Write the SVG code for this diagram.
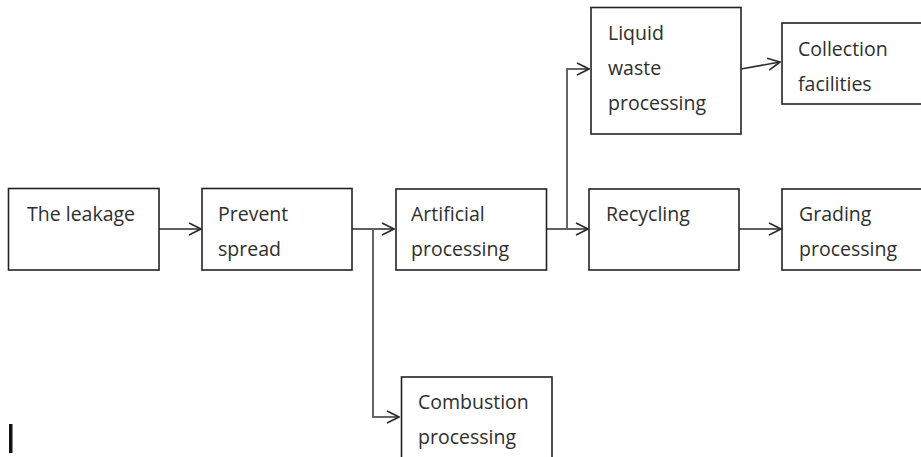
<svg xmlns="http://www.w3.org/2000/svg" width="921" height="457" viewBox="0 0 921 457">
<style>
.box{fill:#fff;stroke:#222;stroke-width:1.6}
.t{font-family:"Open Sans","Liberation Sans",sans-serif;font-size:19.5px;fill:#2e2e2e}
.c{fill:none;stroke:#2a2a2a;stroke-width:1.6}
.g{fill:none;stroke:#666;stroke-width:2}
</style>
<defs>
<marker id="ah" viewBox="0 0 14 14" refX="13" refY="7" markerWidth="14" markerHeight="14" markerUnits="userSpaceOnUse" orient="auto">
<path d="M1,1 L13,7 L1,13" fill="none" stroke="#2a2a2a" stroke-width="1.6"/>
</marker>
</defs>
<rect width="921" height="457" fill="#fff"/>
<g id="connectors">
<line class="c" x1="159" y1="229" x2="201" y2="229" marker-end="url(#ah)"/>
<line class="c" x1="352" y1="229" x2="394" y2="229" marker-end="url(#ah)"/>
<polyline class="g" points="373,229 373,417 399,417" marker-end="url(#ah)"/>
<line class="c" x1="546" y1="229" x2="588" y2="229" marker-end="url(#ah)"/>
<polyline class="g" points="567,229 567,69 589,69" marker-end="url(#ah)"/>
<line class="c" x1="741" y1="69" x2="780" y2="62" marker-end="url(#ah)"/>
<line class="c" x1="739" y1="229" x2="781" y2="229" marker-end="url(#ah)"/>
</g>
<g id="leakage">
<rect class="box" x="8.5" y="188.5" width="150.5" height="81.5"/>
<text class="t" x="27" y="221">The leakage</text>
</g>
<g id="prevent">
<rect class="box" x="202" y="188.5" width="150" height="81.5"/>
<text class="t" x="218" y="221">Prevent</text>
<text class="t" x="218" y="256">spread</text>
</g>
<g id="artificial">
<rect class="box" x="396" y="189" width="150.5" height="81"/>
<text class="t" x="411" y="221">Artificial</text>
<text class="t" x="411" y="256">processing</text>
</g>
<g id="recycling">
<rect class="box" x="589" y="189" width="150" height="81"/>
<text class="t" x="606" y="221">Recycling</text>
</g>
<g id="grading">
<rect class="box" x="782" y="189" width="150" height="81"/>
<text class="t" x="799" y="221">Grading</text>
<text class="t" x="799" y="256">processing</text>
</g>
<g id="liquid">
<rect class="box" x="591" y="7.5" width="150" height="126.5"/>
<text class="t" x="608" y="40">Liquid</text>
<text class="t" x="608" y="75">waste</text>
<text class="t" x="608" y="110">processing</text>
</g>
<g id="collection">
<rect class="box" x="782" y="23" width="150" height="81"/>
<text class="t" x="798" y="56">Collection</text>
<text class="t" x="798" y="91">facilities</text>
</g>
<g id="combustion">
<rect class="box" x="401.5" y="377" width="150.5" height="100"/>
<text class="t" x="418" y="409">Combustion</text>
<text class="t" x="418" y="444">processing</text>
</g>
<rect x="9" y="424" width="3.5" height="29" fill="#111"/>
</svg>
